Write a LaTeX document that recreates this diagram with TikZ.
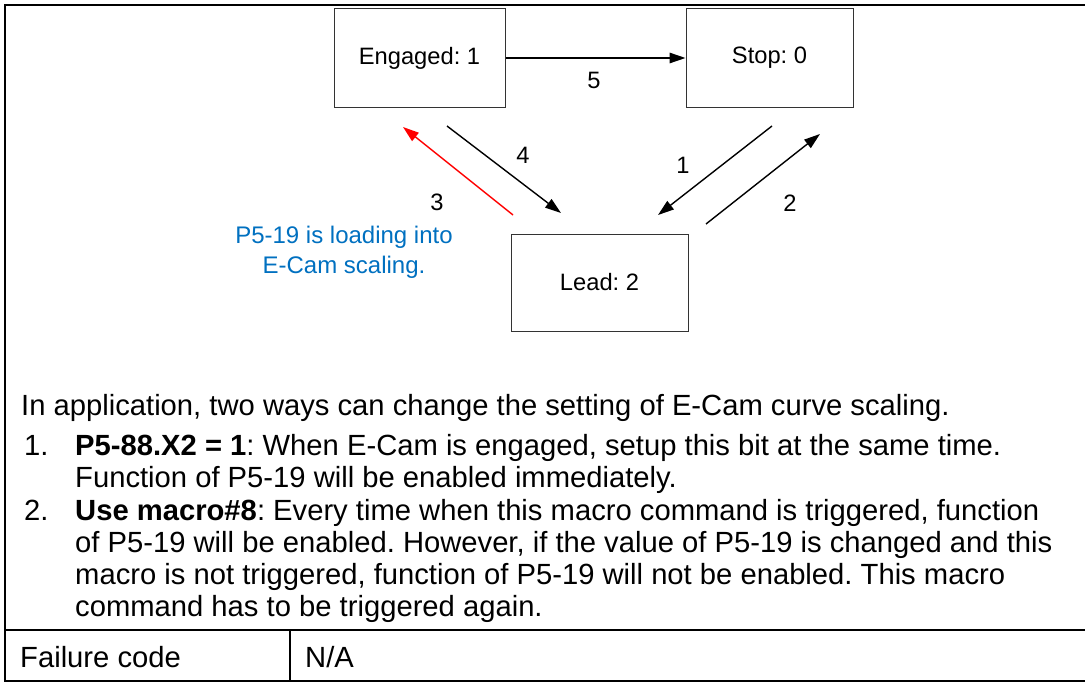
\documentclass[tikz,border=0pt]{standalone}
\usepackage{fontspec}
\setmainfont{Liberation Sans}
\usetikzlibrary{arrows.meta,positioning}
\definecolor{note}{HTML}{0070C0}
\definecolor{hot}{HTML}{FF0000}
\frenchspacing

\begin{document}
\begin{tikzpicture}[x=1pt,y=-1pt,>={Triangle[length=16pt,width=10.5pt]},
 st/.style={draw=black!80,line width=1pt,minimum width=171pt,minimum height=99pt,
 font=\fontsize{23.7}{28}\selectfont},
 nm/.style={inner sep=0pt,font=\fontsize{23.7}{28}\selectfont},
 tx/.style={anchor=base west,inner sep=0pt,align=left,font=\fontsize{29.2}{32.3}\selectfont},
 ar/.style={->,line width=1.4pt}]
\useasboundingbox (0,0) rectangle (1085,682);
% table frame
\draw[line width=2pt] (1085,5) -- (5,5) -- (5,682);
\draw[line width=1.5pt] (5,630) -- (1085,630) (5,681) -- (1085,681) (290,630) -- (290,681);
% states
\node[st] (eng) at (419.5,58) {Engaged: 1};
\node[st,minimum width=167pt] (stop) at (769.5,58) {Stop: 0};
\node[st,minimum width=177pt,minimum height=97pt] (lead) at (599.5,282.5) {Lead: 2};
% free ends of the slanted arrows
\coordinate (a4s) at (447,126); \coordinate (a4e) at (561,213);
\coordinate (a3s) at (513,215); \coordinate (a3e) at (403,127);
\coordinate (a1s) at (772,126); \coordinate (a1e) at (658,215);
\coordinate (a2s) at (706,224); \coordinate (a2e) at (820,134);
\draw[ar] (eng.east) -- (stop.west);
\draw[ar] (a4s) -- (a4e);
\draw[ar,draw=hot,fill=hot] (a3s) -- (a3e);
\draw[ar] (a1s) -- (a1e);
\draw[ar] (a2s) -- (a2e);
\node[nm] (n5) at (594,80) {5};
\node[nm] (n4) at (523,155) {4};
\node[nm] (n3) at (437,202) {3};
\node[nm] (n1) at (683,165) {1};
\node[nm] (n2) at (790,203) {2};
\node[nm,text=note,align=center,font=\fontsize{24}{30}\selectfont] (load) at (344,252)
 {P5-19 is loading into\\E-Cam scaling.};
% text below (base = last line)
\node[tx] (intro) at (21,415) {In application, two ways can change the setting of E-Cam curve scaling.};
\node[tx] (k1) at (24,455) {1.};
\node[tx] (i1) at (75,487.3) {\textbf{P5-88.X2 = 1}: When E-Cam is engaged, setup this bit at the same time.\\
 Function of P5-19 will be enabled immediately.};
\node[tx] (k2) at (24,520) {2.};
\node[tx] (i2) at (75,616.9) {\textbf{Use macro\#8}: Every time when this macro command is triggered, function\\
 of P5-19 will be enabled. However, if the value of P5-19 is changed and this\\
 macro is not triggered, function of P5-19 will not be enabled. This macro\\
 command has to be triggered again.};
\node[tx] (fc) at (20,667) {Failure code};
\node[tx] (na) at (305,667) {N/A};
\end{tikzpicture}
\end{document}
